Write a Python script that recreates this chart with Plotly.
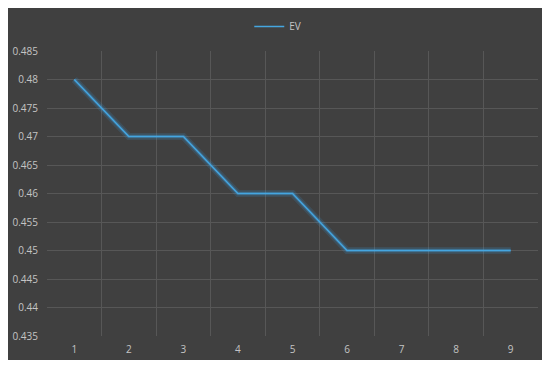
import plotly.graph_objects as go

categories = [1, 2, 3, 4, 5, 6, 7, 8, 9]
ev_values = [0.48, 0.47, 0.47, 0.46, 0.46, 0.45, 0.45, 0.45, 0.45]
y_ticks = [0.435, 0.44, 0.445, 0.45, 0.455, 0.46, 0.465, 0.47, 0.475, 0.48, 0.485]

OFF = 8
W, H = 550 - 2 * OFF, 368 - 2 * OFF
L, T = 43 - OFF, 37 - OFF
R = W - (538 - OFF)
B = H - (338 - OFF)

fig = go.Figure()
fig.add_trace(go.Scatter(x=categories, y=ev_values, mode="lines",
                         line=dict(color="rgba(60,160,230,0.15)", width=7),
                         showlegend=False, hoverinfo="skip"))
fig.add_trace(go.Scatter(x=categories, y=ev_values, mode="lines",
                         line=dict(color="rgba(60,160,230,0.3)", width=3.5),
                         showlegend=False, hoverinfo="skip"))
fig.add_trace(go.Scatter(x=categories, y=ev_values, mode="lines", name="EV",
                         line=dict(color="#45a6e0", width=1.4)))

fig.update_layout(
    width=W, height=H,
    margin=dict(l=L, r=R, t=T, b=B),
    paper_bgcolor="#404040", plot_bgcolor="#404040",
    font=dict(family="Open Sans, Noto Sans, sans-serif", size=10, color="#c4c4c4"),
    legend=dict(orientation="h", x=0.47, xanchor="center", y=1.035, yanchor="bottom",
                yref="paper", font=dict(size=10, color="#c4c4c4"), bgcolor="rgba(0,0,0,0)"),
    xaxis=dict(range=[0.5, 9.5], tickvals=categories, ticktext=[str(c) for c in categories],
               showgrid=False, zeroline=False, showline=False, ticks="",
               ticklabelstandoff=6,
               minor=dict(tickvals=[i + 0.5 for i in range(0, 10)], showgrid=True,
                          gridcolor="#575757", gridwidth=1, ticks=""),
               tickfont=dict(color="#c4c4c4")),
    yaxis=dict(range=[0.435, 0.485], tickvals=y_ticks, showgrid=True, gridcolor="#575757",
               zeroline=False, showline=False, ticks="", ticklabelstandoff=8,
               tickfont=dict(color="#c4c4c4")),
)
fig.write_html("out.html")
